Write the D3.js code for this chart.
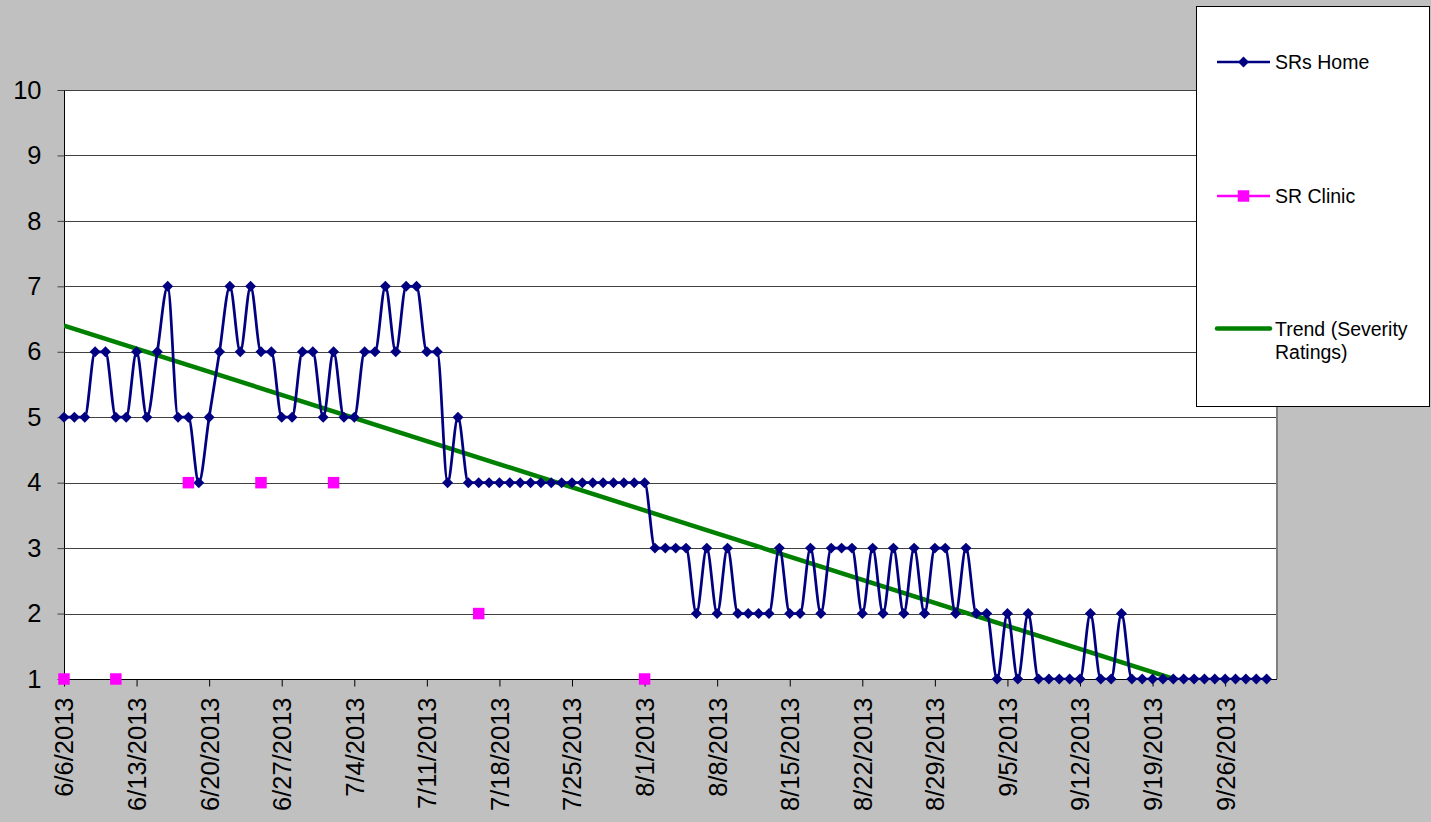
<!DOCTYPE html>
<html>
<head>
<meta charset="utf-8">
<script src="https://cdn.jsdelivr.net/npm/d3@7"></script>
<style>
  html, body { margin: 0; padding: 0; background: #C0C0C0; }
  svg { display: block; }
  text { font-family: Arial, "Liberation Sans", sans-serif; fill: #000; }
</style>
</head>
<body>
<svg id="chart" width="1431" height="822"></svg>
<script>
// ---------- data ----------
const startDate = "2013-06-06";
const endDate = "2013-10-01"; // axis end (one day past last reading)
const homeValues = [
  5,5,5,6,6,5,5,6,5,6,7,5,5,4,5,6,7,6,7,6,
  6,5,5,6,6,5,6,5,5,6,6,7,6,7,7,6,6,4,5,4,
  4,4,4,4,4,4,4,4,4,4,4,4,4,4,4,4,4,3,3,3,
  3,2,3,2,3,2,2,2,2,3,2,2,3,2,3,3,3,2,3,2,
  3,2,3,2,3,3,2,3,2,2,1,2,1,2,1,1,1,1,1,2,
  1,1,2,1,1,1,1,1,1,1,1,1,1,1,1,1,1
];
const clinicDates = ["2013-06-06","2013-06-11","2013-06-18","2013-06-25","2013-07-02","2013-07-16","2013-08-01"];
const clinicValues = [1,1,4,4,4,2,1];
const trendDates = ["2013-06-06","2013-09-30"];
const trendValues = [6.4, 0.55];
const xTickLabels = ["6/6/2013","6/13/2013","6/20/2013","6/27/2013","7/4/2013","7/11/2013","7/18/2013",
  "7/25/2013","8/1/2013","8/8/2013","8/15/2013","8/22/2013","8/29/2013","9/5/2013","9/12/2013",
  "9/19/2013","9/26/2013"];
const yTicks = [1,2,3,4,5,6,7,8,9,10];
const seriesNames = ["SRs Home", "SR Clinic", "Trend (Severity Ratings)"];

// ---------- setup ----------
const parseISO = d3.timeParse("%Y-%m-%d");
const parseUS = d3.timeParse("%-m/%-d/%Y");
const start = parseISO(startDate);
const homeData = homeValues.map((v, i) => ({ date: d3.timeDay.offset(start, i), value: v }));
const clinicData = clinicDates.map((d, i) => ({ date: parseISO(d), value: clinicValues[i] }));
const trendData = trendDates.map((d, i) => ({ date: parseISO(d), value: trendValues[i] }));

const svg = d3.select("#chart");
const W = 1431, H = 822;
const plot = { left: 64, right: 1277, top: 90, bottom: 679 };

svg.append("rect").attr("width", W).attr("height", H).attr("fill", "#C0C0C0");

const x = d3.scaleTime().domain([parseISO(startDate), parseISO(endDate)]).range([plot.left, plot.right]);
const y = d3.scaleLinear().domain([1, 10]).range([plot.bottom, plot.top]);

// plot area
svg.append("rect")
  .attr("x", plot.left).attr("y", plot.top)
  .attr("width", plot.right - plot.left).attr("height", plot.bottom - plot.top)
  .attr("fill", "#fff");

svg.append("defs").append("clipPath").attr("id", "clip")
  .append("rect")
  .attr("x", plot.left).attr("y", plot.top - 10)
  .attr("width", plot.right - plot.left).attr("height", plot.bottom - plot.top + 10);

// gridlines
svg.append("g").selectAll("line").data(yTicks).join("line")
  .attr("x1", plot.left).attr("x2", plot.right)
  .attr("y1", d => Math.round(y(d)) + 0.5).attr("y2", d => Math.round(y(d)) + 0.5)
  .attr("stroke", "#404040").attr("stroke-width", 1);

// right border of plot area
svg.append("line")
  .attr("x1", plot.right).attr("x2", plot.right)
  .attr("y1", plot.top).attr("y2", plot.bottom)
  .attr("stroke", "#808080").attr("stroke-width", 2);

// y axis
const yAxis = d3.axisLeft(y).tickValues(yTicks).tickSize(7).tickPadding(16).tickFormat(d3.format("d"));
const gy = svg.append("g").attr("transform", `translate(${plot.left + 0.5},0)`).call(yAxis);
gy.select(".domain").attr("stroke", "#000").attr("d", `M0,${plot.top}V${plot.bottom}`);
gy.selectAll(".tick line").attr("stroke", "#404040");
gy.selectAll(".tick text").attr("font-size", 25.5).attr("font-family", "Arial, 'Liberation Sans', sans-serif").attr("fill", "#000");

// x axis
const xTickDates = xTickLabels.map(parseUS);
const xAxis = d3.axisBottom(x).tickValues(xTickDates).tickSize(7).tickFormat(d3.timeFormat("%-m/%-d/%Y"));
const gx = svg.append("g").attr("transform", `translate(0,${plot.bottom + 0.5})`).call(xAxis);
gx.select(".domain").attr("stroke", "#000").attr("d", `M${plot.left},0H${plot.right}`);
gx.selectAll(".tick line").attr("stroke", "#000");
gx.selectAll(".tick text")
  .attr("font-size", 25.5).attr("font-family", "Arial, 'Liberation Sans', sans-serif").attr("fill", "#000")
  .attr("text-anchor", "end").attr("dy", "0.35em")
  .attr("transform", "translate(0,18) rotate(-90)")
  .attr("x", 0).attr("y", 0);

// trend line
svg.append("path").datum(trendData)
  .attr("clip-path", "url(#clip)")
  .attr("fill", "none").attr("stroke", "#008000").attr("stroke-width", 4.5)
  .attr("d", d3.line().x(d => x(d.date)).y(d => y(d.value)));

// SRs Home line (smoothed)
svg.append("path").datum(homeData)
  .attr("clip-path", "url(#clip)")
  .attr("fill", "none").attr("stroke", "#000080").attr("stroke-width", 2.75)
  .attr("stroke-linejoin", "round")
  .attr("d", d3.line().x(d => x(d.date)).y(d => y(d.value)).curve(d3.curveMonotoneX));

const diamond = d3.symbol().type(d3.symbolSquare).size(60);
svg.append("g").selectAll("path").data(homeData).join("path")
  .attr("d", diamond)
  .attr("transform", d => `translate(${x(d.date)},${y(d.value)}) rotate(45)`)
  .attr("fill", "#000080");

// SR Clinic markers
const square = d3.symbol().type(d3.symbolSquare).size(132);
svg.append("g").selectAll("path").data(clinicData).join("path")
  .attr("d", square)
  .attr("transform", d => `translate(${x(d.date)},${y(d.value)})`)
  .attr("fill", "#FF00FF");

// ---------- legend ----------
const lg = svg.append("g");
lg.append("rect").attr("x", 1196.5).attr("y", 6.5).attr("width", 233).attr("height", 400)
  .attr("fill", "#fff").attr("stroke", "#000").attr("stroke-width", 1);

const lx1 = 1217, lx2 = 1270, lxm = 1243.5, tx = 1275;
// SRs Home
lg.append("line").attr("x1", lx1).attr("x2", lx2).attr("y1", 62).attr("y2", 62)
  .attr("stroke", "#000080").attr("stroke-width", 2.5);
lg.append("path").attr("d", diamond).attr("transform", `translate(${lxm},62) rotate(45)`).attr("fill", "#000080");
lg.append("text").attr("x", tx).attr("y", 62).attr("dy", "0.35em").attr("font-size", 19.5).text(seriesNames[0]);
// SR Clinic
lg.append("line").attr("x1", lx1).attr("x2", lx2).attr("y1", 196).attr("y2", 196)
  .attr("stroke", "#FF00FF").attr("stroke-width", 2.5);
lg.append("path").attr("d", square).attr("transform", `translate(${lxm},196)`).attr("fill", "#FF00FF");
lg.append("text").attr("x", tx).attr("y", 196).attr("dy", "0.35em").attr("font-size", 19.5).text(seriesNames[1]);
// Trend
lg.append("line").attr("x1", lx1).attr("x2", lx2).attr("y1", 328.5).attr("y2", 328.5)
  .attr("stroke", "#008000").attr("stroke-width", 4.5).attr("stroke-linecap", "round");
const tt = lg.append("text").attr("x", tx).attr("y", 335.5).attr("font-size", 19.5);
tt.append("tspan").attr("x", tx).attr("y", 335.5).text("Trend (Severity");
tt.append("tspan").attr("x", tx).attr("y", 358.5).text("Ratings)");
</script>
</body>
</html>
